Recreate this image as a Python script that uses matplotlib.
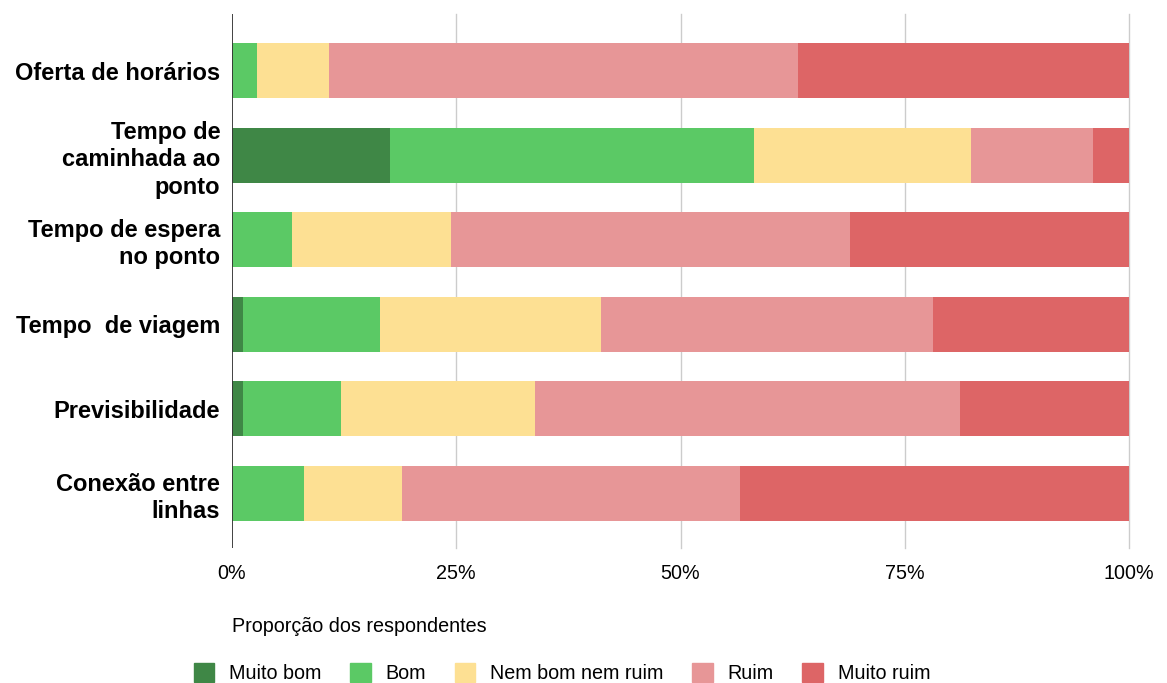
import matplotlib.pyplot as plt
import numpy as np
from matplotlib.patches import Patch

categories = ['Oferta de horários', 'Tempo de\ncaminhada ao\nponto', 'Tempo de espera\nno ponto',
              'Tempo  de viagem', 'Previsibilidade', 'Conexão entre\nlinhas']
levels = ['Muito bom', 'Bom', 'Nem bom nem ruim', 'Ruim', 'Muito ruim']
muito_bom = [0.0, 17.6, 0.0, 1.2, 1.2, 0.0]
bom = [2.8, 40.6, 6.7, 15.3, 11.0, 8.0]
nem = [8.0, 24.2, 17.7, 24.6, 21.6, 11.0]
ruim = [52.3, 13.6, 44.5, 37.0, 47.4, 37.6]
muito_ruim = [36.9, 4.0, 31.1, 21.9, 18.8, 43.4]
colors = ['#3f8746', '#5bc965', '#fde093', '#e79697', '#dd6566']

plt.rcParams['font.family'] = ['Liberation Sans', 'DejaVu Sans']

fig = plt.figure(figsize=(11.67, 6.83), dpi=100)
ax = fig.add_axes([232 / 1167, 1 - 548 / 683, 897 / 1167, 534 / 683])

y = np.arange(len(categories))
left = np.zeros(len(categories))
for vals, col in zip([muito_bom, bom, nem, ruim, muito_ruim], colors):
    ax.barh(y, vals, left=left, height=0.65, color=col, zorder=2)
    left += np.array(vals)

ax.set_ylim(5 + 0.65, -0.669)
ax.set_xlim(0, 100)
ax.set_xticks([0, 25, 50, 75, 100])
ax.set_xticklabels(['0%', '25%', '50%', '75%', '100%'], fontsize=14.2)
ax.set_yticks(y)
ax.set_yticklabels(categories, fontsize=17, fontweight='bold', linespacing=1.24)
ax.tick_params(length=0)
ax.tick_params(axis='y', pad=8.5)
ax.tick_params(axis='x', pad=11.5)
for s in ax.spines.values():
    s.set_visible(False)
for xv in [25, 50, 75, 100]:
    ax.axvline(xv, color='#cccccc', linewidth=1, zorder=0, clip_on=False)
ax.axvline(0, color='#333333', linewidth=1.3, zorder=3)

fig.text(232 / 1167, 1 - 627 / 683, 'Proporção dos respondentes', fontsize=14.2,
         va='center', ha='left')

handles = [Patch(facecolor=c, edgecolor=c, label=l) for c, l in zip(colors, levels)]
fig.legend(handles=handles, loc='center', bbox_to_anchor=(562 / 1167, 1 - 673 / 683), ncol=5,
           frameon=False, prop={'size': 14.2},
           handlelength=1.05, handleheight=1.1, handletextpad=0.75, columnspacing=1.45)

fig.savefig('out.png', dpi=100)
